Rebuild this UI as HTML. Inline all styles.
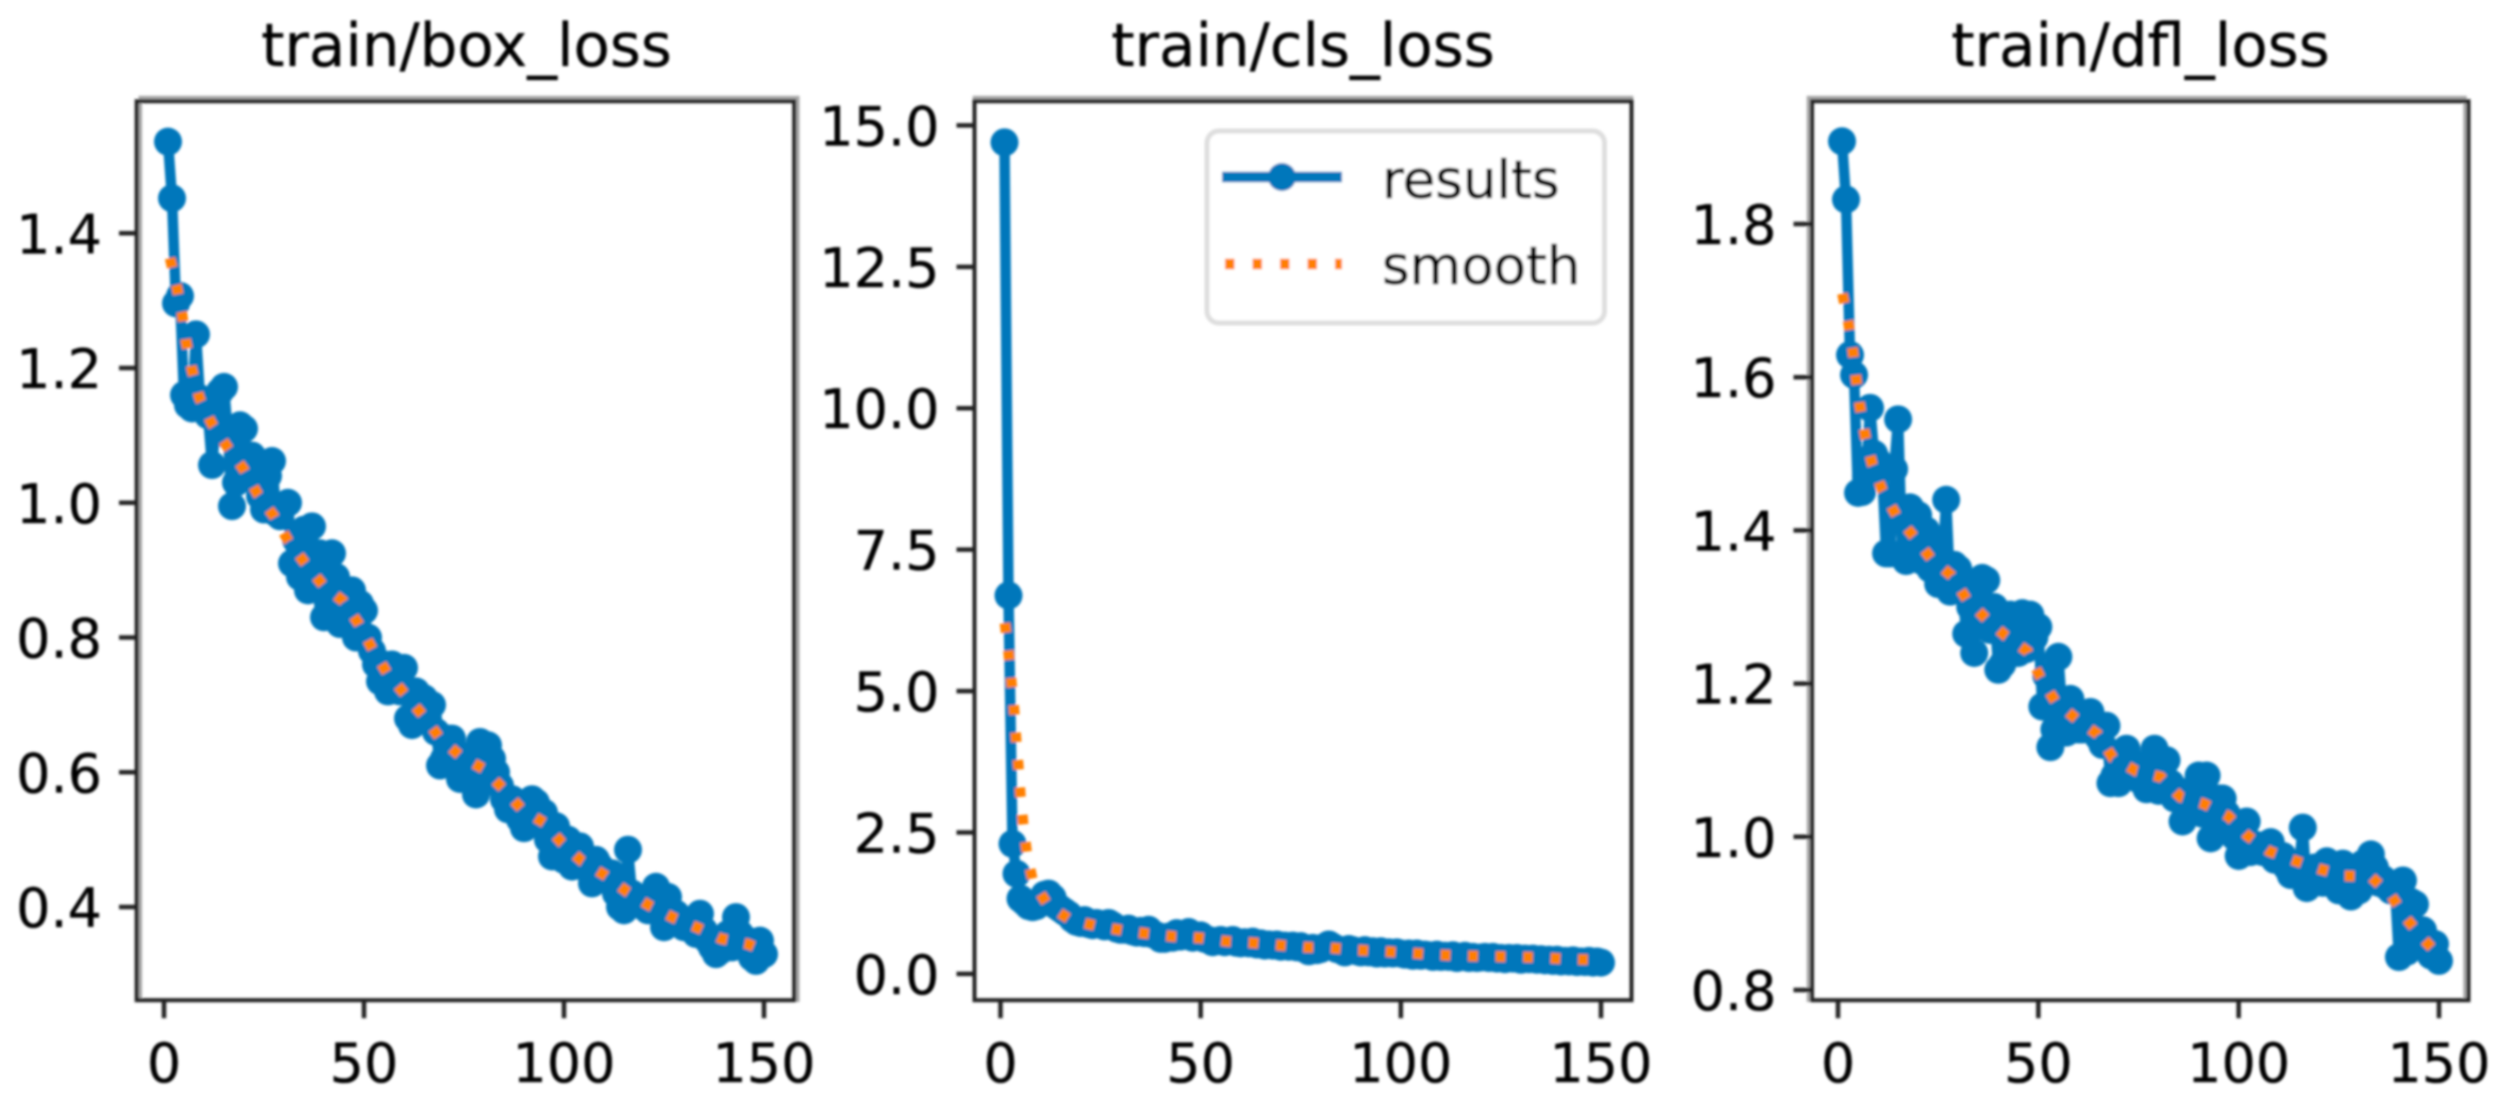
<!DOCTYPE html>
<html lang="en">
<head>
<meta charset="utf-8">
<title>Training loss curves</title>
<style>
  html, body { margin: 0; padding: 0; background: #fff; }
  svg { display: block; }
  text { font-family: "DejaVu Sans", "Liberation Sans", sans-serif; fill: #000; }
  .tick-label { font-size: 54px; stroke: #000; stroke-width: 0.3; }
  .title { font-size: 59.5px; text-anchor: middle; stroke: #000; stroke-width: 0.3; }
  .legend-label { font-size: 53px; stroke: #000; stroke-width: 0.6; }
  .frame { fill: none; stroke: #222; stroke-width: 4; }
  .frame-shade { fill: none; stroke: #a8a8a8; stroke-width: 3.6; }
  .tick { stroke: #222; stroke-width: 4.5; }
  .results { fill: none; stroke: #0077bb; stroke-width: 10.5; stroke-linejoin: round; }
  .marker { fill: #0077bb; }
  .smooth { fill: none; stroke: #ff7f00; stroke-width: 10.5; stroke-dasharray: 9.5 18; }
</style>
</head>
<body>
<svg id="chart" xmlns="http://www.w3.org/2000/svg" width="2499" height="1105" viewBox="0 0 2499 1105">
  <defs>
    <filter id="soft" x="0" y="0" width="2499" height="1105" filterUnits="userSpaceOnUse">
      <feGaussianBlur stdDeviation="1.2"/>
    </filter>
  </defs>
  <rect x="0" y="0" width="2499" height="1105" fill="#ffffff"/>
  <g id="root" filter="url(#soft)">
    <g id="panel-box">
      <text class="title" x="466.5" y="66">train/box_loss</text>
      <rect class="frame-shade" x="140.3" y="97.6" width="657.5" height="902.6"/>
      <rect class="frame" x="136.7" y="101.2" width="657.5" height="899"/>
    </g>
    <g id="panel-cls">
      <text class="title" x="1303" y="66">train/cls_loss</text>
      <rect class="frame-shade" x="974.5" y="97.6" width="657" height="902.6"/>
      <rect class="frame" x="974.5" y="101.2" width="657" height="899"/>
    </g>
    <g id="panel-dfl">
      <text class="title" x="2140.5" y="66">train/dfl_loss</text>
      <rect class="frame-shade" x="1808.5" y="97.6" width="656.5" height="902.6"/>
      <rect class="frame" x="1812" y="101.2" width="656.5" height="899"/>
    </g>
    <g id="legend-layer"></g>
  </g>
</svg>
<script>
// ---- shared x axis ----
const xTickValues = [0, 50, 100, 150];
const xTickLabels = ["0", "50", "100", "150"];

// ---- train/box_loss ----
const boxResults = [
  1.536,1.452,1.296,1.307,1.16,1.145,1.14,1.25,1.155,1.14,
  1.13,1.056,1.12,1.165,1.172,1.10,0.995,1.03,1.115,1.11,
  1.06,1.07,1.04,1.01,0.99,1.04,1.062,0.985,0.98,0.995,
  1.0,0.91,0.945,0.89,0.96,0.87,0.965,0.90,0.925,0.83,
  0.85,0.925,0.89,0.82,0.87,0.845,0.87,0.80,0.85,0.84,
  0.80,0.78,0.76,0.735,0.76,0.72,0.76,0.74,0.72,0.755,
  0.68,0.67,0.72,0.70,0.71,0.68,0.70,0.66,0.61,0.62,
  0.65,0.65,0.63,0.59,0.62,0.60,0.62,0.567,0.645,0.60,
  0.64,0.62,0.60,0.58,0.56,0.545,0.56,0.55,0.53,0.517,
  0.55,0.56,0.555,0.53,0.54,0.50,0.475,0.52,0.505,0.47,
  0.50,0.46,0.47,0.49,0.46,0.455,0.435,0.47,0.46,0.445,
  0.44,0.45,0.42,0.40,0.395,0.485,0.42,0.405,0.41,0.40,
  0.395,0.41,0.43,0.40,0.37,0.415,0.38,0.39,0.375,0.37,
  0.38,0.375,0.36,0.39,0.365,0.35,0.34,0.33,0.335,0.345,
  0.36,0.34,0.385,0.36,0.35,0.35,0.325,0.32,0.35,0.33
];
const boxSmoothEpochs = [1.5,3.1,4.5,5.5,7,8.9,11.9,15.8,19.9,23.4,27.5,31.1,35.3,39.7,44.8,48.7,52.1,55.8,60.2,64.8,68.9,73.9,79.9,84.7,89.3,95,99.5,104.5,110.5,115.7,121.4,127.4,133.5,139.3,146,150];
const boxSmoothValues = [1.363,1.323,1.281,1.239,1.197,1.155,1.118,1.083,1.05,1.013,0.98,0.943,0.91,0.878,0.854,0.82,0.783,0.747,0.716,0.684,0.651,0.625,0.605,0.576,0.546,0.525,0.495,0.468,0.446,0.423,0.402,0.384,0.369,0.353,0.345,0.335];
const boxYTickValues = [0.4, 0.6, 0.8, 1.0, 1.2, 1.4];
const boxYTickLabels = ["0.4", "0.6", "0.8", "1.0", "1.2", "1.4"];

// ---- train/cls_loss ----
const clsResults = [
  14.7,6.69,2.3,1.77,1.33,1.27,1.2,1.18,1.2,1.3,
  1.4,1.42,1.35,1.2,1.15,1.1,1.05,0.97,0.92,0.9,
  0.95,0.88,0.86,0.9,0.88,0.84,0.9,0.86,0.8,0.78,
  0.78,0.8,0.75,0.73,0.76,0.72,0.78,0.7,0.68,0.62,
  0.62,0.66,0.64,0.72,0.66,0.7,0.74,0.64,0.66,0.68,
  0.62,0.6,0.56,0.58,0.6,0.56,0.58,0.6,0.55,0.54,
  0.56,0.54,0.57,0.52,0.54,0.5,0.52,0.5,0.52,0.48,
  0.5,0.48,0.5,0.47,0.49,0.44,0.4,0.46,0.42,0.44,
  0.48,0.52,0.48,0.44,0.42,0.38,0.44,0.42,0.4,0.38,
  0.42,0.38,0.4,0.36,0.4,0.36,0.38,0.36,0.38,0.36,
  0.34,0.36,0.32,0.36,0.32,0.34,0.33,0.3,0.34,0.3,
  0.32,0.3,0.33,0.28,0.3,0.32,0.28,0.3,0.28,0.29,
  0.3,0.28,0.3,0.27,0.28,0.26,0.28,0.27,0.28,0.25,
  0.27,0.26,0.27,0.25,0.26,0.24,0.25,0.23,0.25,0.22,
  0.23,0.22,0.24,0.21,0.22,0.21,0.23,0.2,0.22,0.2
];
const clsSmoothEpochs = [1.1,2,2.7,3.4,3.9,4.5,5,5.7,6.6,8.1,11.8,17.3,23.8,30.3,36.7,43.5,50,56.5,62.8,69.4,76,82.4,89,95.6,102.2,108.6,115.2,121.8,128.3,134.8,141.5,148,150];
const clsSmoothValues = [6.2,5.69,5.18,4.67,4.16,3.65,3.14,2.64,2.13,1.63,1.22,0.96,0.85,0.77,0.71,0.66,0.635,0.575,0.55,0.51,0.47,0.46,0.42,0.4,0.37,0.34,0.32,0.31,0.3,0.29,0.26,0.25,0.24];
const clsYTickValues = [0, 2.5, 5, 7.5, 10, 12.5, 15];
const clsYTickLabels = ["0.0", "2.5", "5.0", "7.5", "10.0", "12.5", "15.0"];

// ---- train/dfl_loss ----
const dflResults = [
  1.908,1.832,1.629,1.603,1.449,1.45,1.47,1.56,1.50,1.49,
  1.48,1.37,1.37,1.48,1.545,1.37,1.36,1.43,1.38,1.42,
  1.36,1.40,1.35,1.38,1.33,1.35,1.44,1.32,1.355,1.35,
  1.33,1.265,1.30,1.24,1.31,1.338,1.335,1.27,1.30,1.218,
  1.225,1.28,1.29,1.24,1.24,1.292,1.245,1.29,1.26,1.274,
  1.17,1.21,1.117,1.14,1.235,1.16,1.136,1.18,1.15,1.14,
  1.14,1.15,1.163,1.14,1.13,1.12,1.145,1.07,1.08,1.07,
  1.09,1.115,1.10,1.08,1.075,1.09,1.062,1.09,1.115,1.06,
  1.09,1.10,1.07,1.05,1.06,1.02,1.03,1.05,1.04,1.08,
  1.03,1.08,0.998,1.02,1.05,1.05,1.03,1.02,1.00,0.975,
  0.98,1.02,0.98,0.99,0.985,0.98,0.99,0.993,0.97,0.97,
  0.975,0.96,0.95,0.955,0.96,1.012,0.933,0.95,0.96,0.96,
  0.94,0.968,0.945,0.96,0.93,0.965,0.94,0.922,0.96,0.93,
  0.965,0.95,0.977,0.96,0.94,0.945,0.935,0.93,0.935,0.843,
  0.943,0.85,0.915,0.912,0.87,0.878,0.86,0.845,0.86,0.838
];
const dflSmoothEpochs = [1.1,2.6,3.7,4.5,5.5,6.8,8.5,11,14.5,18.9,23.1,28.3,32.1,36.9,41.9,47.3,50.5,54.2,59.4,64.8,68.6,74.4,80.6,85.5,91.4,97.4,102.3,107.7,113.9,120.2,126.5,133,138.1,141.9,146.2,150];
const dflSmoothValues = [1.709,1.671,1.635,1.599,1.561,1.523,1.487,1.453,1.42,1.392,1.364,1.341,1.31,1.285,1.262,1.242,1.208,1.177,1.154,1.134,1.103,1.086,1.078,1.052,1.043,1.027,1.001,0.981,0.969,0.958,0.949,0.948,0.923,0.893,0.866,0.845];
const dflYTickValues = [0.8, 1.0, 1.2, 1.4, 1.6, 1.8];
const dflYTickLabels = ["0.8", "1.0", "1.2", "1.4", "1.6", "1.8"];

const NS = "http://www.w3.org/2000/svg";

function make(tag, parent, attrs) {
  const node = document.createElementNS(NS, tag);
  for (const key in attrs) node.setAttribute(key, attrs[key]);
  parent.appendChild(node);
  return node;
}

// Linear axis built from two calibration anchors (domain value -> pixel).
function linearAxis(d0, p0, d1, p1) {
  return function (v) { return p0 + (v - d0) * (p1 - p0) / (d1 - d0); };
}

function drawPanel(groupId, frameLeft, frameBottom, xAxis, yAxis, results, smoothEpochs, smoothValues, yTicks, yLabels) {
  const group = document.getElementById(groupId);

  xTickValues.forEach(function (value, i) {
    const px = xAxis(value);
    const tick = make("line", group, { class: "tick", x1: px, x2: px, y1: frameBottom, y2: frameBottom + 18 });
    
    
    const label = make("text", group, { class: "tick-label", x: px, y: 1082, "text-anchor": "middle" });
    label.textContent = xTickLabels[i];
    
    
  });

  yTicks.forEach(function (value, i) {
    const py = yAxis(value);
    const tick = make("line", group, { class: "tick", x1: frameLeft - 18, x2: frameLeft, y1: py, y2: py });
    
    
    const label = make("text", group, { class: "tick-label", x: frameLeft - 35, y: py + 20, "text-anchor": "end" });
    label.textContent = yLabels[i];
    
    
  });

  const linePoints = results.map(function (v, i) {
    return xAxis(i + 1).toFixed(1) + "," + yAxis(v).toFixed(1);
  }).join(" ");
  const line = make("polyline", group, { class: "results", points: linePoints });
  
  

  results.forEach(function (v, i) {
    const dot = make("circle", group, { class: "marker", cx: xAxis(i + 1), cy: yAxis(v), r: 14 });
    
    
  });

  const smoothPoints = smoothEpochs.map(function (e, i) {
    return xAxis(e).toFixed(1) + "," + yAxis(smoothValues[i]).toFixed(1);
  }).join(" ");
  const smooth = make("polyline", group, { class: "smooth", points: smoothPoints });
  
  
}

drawPanel("panel-box", 137, 1000.2,
  linearAxis(0, 164, 150, 764), linearAxis(0.4, 907, 1.4, 233.3),
  boxResults, boxSmoothEpochs, boxSmoothValues, boxYTickValues, boxYTickLabels);

drawPanel("panel-cls", 974.5, 1000.2,
  linearAxis(0, 1000.5, 150, 1601), linearAxis(0, 973.9, 15, 125.4),
  clsResults, clsSmoothEpochs, clsSmoothValues, clsYTickValues, clsYTickLabels);

drawPanel("panel-dfl", 1811.5, 1000.2,
  linearAxis(0, 1838, 150, 2439), linearAxis(0.8, 990, 1.8, 224),
  dflResults, dflSmoothEpochs, dflSmoothValues, dflYTickValues, dflYTickLabels);

// ---- legend ----
const legendLayer = document.getElementById("legend-layer");
const legendBox = make("rect", legendLayer, { x: 1207, y: 131, width: 397.5, height: 192, rx: 12, ry: 12, fill: "#ffffff", stroke: "#dedede", "stroke-width": 5 });



const legendResultsLine = make("line", legendLayer, { class: "results", x1: 1222, x2: 1342, y1: 177, y2: 177 });



const legendResultsDot = make("circle", legendLayer, { class: "marker", cx: 1282, cy: 177, r: 14 });



const legendResultsText = make("text", legendLayer, { class: "legend-label", x: 1382, y: 198 });
legendResultsText.textContent = "results";



const legendSmoothLine = make("line", legendLayer, { class: "smooth", x1: 1225, x2: 1342, y1: 264, y2: 264 });



const legendSmoothText = make("text", legendLayer, { class: "legend-label", x: 1382, y: 284 });
legendSmoothText.textContent = "smooth";


</script>
</body>
</html>
